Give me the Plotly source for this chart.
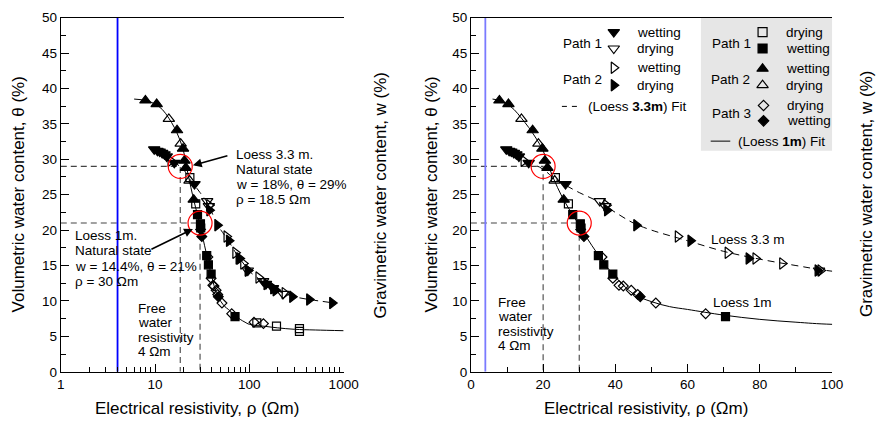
import plotly.graph_objects as go

W, H = 896, 429
FONT = "Liberation Sans, Arial, Helvetica, sans-serif"

# ---------------- measured data: resistivity (Ωm) and volumetric water content (%) ----------------
# Loess 3.3 m
l33_p1_wet_rho = [9.8, 10.6, 11.2, 11.9, 12.6, 13.3, 16.0, 26.2, 150, 178]
l33_p1_wet_th = [31.4, 31.2, 31.1, 30.9, 30.7, 30.4, 29.5, 26.5, 12.4, 11.8]
l33_p1_dry_rho = [35.7, 37.2, 96.4, 140, 228]
l33_p1_dry_th = [24.1, 23.4, 14.3, 12.8, 11.0]
l33_p2_wet_rho = [14.6, 37.5, 57.3, 71.1, 78.8, 86.2, 96.8, 125, 237]
l33_p2_wet_th = [29.8, 23.5, 19.1, 16.8, 16.0, 15.3, 14.3, 13.3, 11.1]
l33_p2_dry_rho = [37.7, 45.8, 60.8, 76.9, 96.0, 152, 179, 190, 285, 431, 756]
l33_p2_dry_th = [22.8, 20.7, 18.5, 16.0, 14.3, 12.4, 11.8, 11.5, 10.6, 10.2, 9.7]

# Loess 1 m
l1_p1_dry_rho = [23.4, 27.0, 120, 194, 340, 340]
l1_p1_dry_th = [27.4, 23.7, 6.9, 6.45, 6.1, 5.7]
l1_p1_wet_rho = [28.2, 30.3, 30.5, 35.3, 36.8, 39.3, 70.5]
l1_p1_wet_th = [22.2, 20.9, 20.3, 16.4, 15.1, 13.8, 7.8]
l1_p2_wet_rho = [7.9, 10.4, 17.1, 19.8, 20.5, 21.2, 25.7]
l1_p2_wet_th = [38.3, 37.8, 34.1, 31.5, 29.8, 28.8, 24.3]
l1_p2_dry_rho = [14.0, 18.7, 23.2]
l1_p2_dry_th = [35.7, 32.2, 27.0]
l1_p3_dry_rho = [36.3, 39.3, 41.0, 42.2, 44.4, 46.2, 51.2, 65.0, 112, 141]
l1_p3_dry_th = [16.2, 13.2, 12.2, 12.1, 11.5, 10.9, 9.7, 8.2, 7.0, 6.8]
l1_p3_wet_rho = [30.4, 31.3, 46.9]
l1_p3_wet_th = [20.1, 19.1, 10.6]

# Fitted curves
fit33_rho = [9.5, 11, 13, 15, 17, 19, 21, 23, 26, 30, 35, 40, 45, 50, 60, 70, 80, 90, 100,
             130, 170, 220, 300, 430, 550, 800]
fit33_th = [31.4, 31.1, 30.6, 29.9, 29.3, 28.9, 28.2, 27.3, 26.4, 25.3, 24.1, 22.5, 21.0, 20.0,
            18.5, 17.0, 15.9, 15.0, 14.2, 13.0, 11.9, 11.2, 10.6, 10.2, 10.0, 9.7]
fit1_rho = [6, 8, 10, 12, 14, 16, 18, 20, 22, 24, 26, 28, 30, 32, 35, 38, 40, 45, 50, 55, 60,
            70, 80, 90, 100, 150, 200, 300, 500, 1000]
fit1_th = [38.5, 38.3, 37.8, 37.0, 35.8, 34.5, 33.0, 31.2, 28.4, 26.0, 24.0, 22.3, 20.7, 19.0,
           16.7, 14.6, 13.4, 11.0, 9.9, 9.2, 8.8, 8.0, 7.4, 7.0, 6.7, 6.4, 6.2, 6.0, 5.9, 5.8]

# Natural states and free water
free_water_rho = 4
nat33_w, nat33_th, nat33_rho = 18, 29, 18.5
nat1_w, nat1_th, nat1_rho = 14.4, 21, 30
nat33_rho_lin = 20  # marked position on the linear panel

# ---------------- geometry helpers (pixel -> paper) ----------------
def px(x):
    return x / W


def py(y):
    return 1 - y / H


LX = [px(58), px(347)]
RX = [px(477), px(846)]
YD = [py(378), py(11)]

fig = go.Figure()

panels = [("x", "y"), ("x2", "y3")]

SERIES = [
    (l33_p1_wet_rho, l33_p1_wet_th, "triangle-down", 10),
    (l33_p1_dry_rho, l33_p1_dry_th, "triangle-down-open", 10),
    (l33_p2_wet_rho, l33_p2_wet_th, "triangle-right-open", 10),
    (l33_p2_dry_rho, l33_p2_dry_th, "triangle-right", 10),
    (l1_p1_dry_rho, l1_p1_dry_th, "square-open", 8),
    (l1_p1_wet_rho, l1_p1_wet_th, "square", 8),
    (l1_p2_wet_rho, l1_p2_wet_th, "triangle-up", 10),
    (l1_p2_dry_rho, l1_p2_dry_th, "triangle-up-open", 10),
    (l1_p3_dry_rho, l1_p3_dry_th, "diamond-open", 7.5),
    (l1_p3_wet_rho, l1_p3_wet_th, "diamond", 7.5),
]

REF_DASH = "6px,4px"
FIT_DASH = "7px,5px"

for i, (xa, ya) in enumerate(panels):
    xmin = 1 if xa == "x" else 0
    r33 = nat33_rho if xa == "x" else nat33_rho_lin
    # natural-state guide lines
    for r, t in [(r33, nat33_th), (nat1_rho, nat1_th)]:
        fig.add_trace(go.Scatter(x=[xmin, r, r], y=[t, t, 0], mode="lines", xaxis=xa, yaxis=ya,
                                 line=dict(color="#444444", width=1.1, dash=REF_DASH),
                                 hoverinfo="skip", showlegend=False))
    # free water resistivity
    fig.add_trace(go.Scatter(x=[free_water_rho, free_water_rho], y=[0, 50], mode="lines",
                             xaxis=xa, yaxis=ya,
                             line=dict(color="#0000ff" if xa == "x" else "#7a7aff", width=1.8),
                             hoverinfo="skip", showlegend=False))
    # fits
    fig.add_trace(go.Scatter(x=fit33_rho, y=fit33_th, mode="lines", xaxis=xa, yaxis=ya,
                             line=dict(color="black", width=1, dash=FIT_DASH, shape="spline"),
                             hoverinfo="skip", showlegend=False))
    fig.add_trace(go.Scatter(x=fit1_rho, y=fit1_th, mode="lines", xaxis=xa, yaxis=ya,
                             line=dict(color="black", width=1, shape="spline"),
                             hoverinfo="skip", showlegend=False))
    # measurements
    for rho, th, sym, size in SERIES:
        fig.add_trace(go.Scatter(x=rho, y=th, mode="markers", xaxis=xa, yaxis=ya,
                                 marker=dict(symbol=sym, size=size, color="black",
                                             line=dict(color="black", width=1.2)),
                                 showlegend=False))
    # natural-state circles
    fig.add_trace(go.Scatter(x=[r33, nat1_rho], y=[nat33_th, nat1_th], mode="markers",
                             xaxis=xa, yaxis=ya,
                             marker=dict(symbol="circle-open", size=24, color="red",
                                         line=dict(color="red", width=1.2)),
                             showlegend=False))

# ---------------- legend glyphs (drawn on a pixel overlay) ----------------
LEG = [
    (623, 26, "triangle-down", 10), (623, 43, "triangle-down-open", 10),
    (623, 63, "triangle-right-open", 10), (623, 81, "triangle-right", 10),
    (775, 26, "square-open", 9), (775, 43, "square", 9),
    (775, 64, "triangle-up", 10), (775, 81, "triangle-up-open", 10),
    (776, 102, "diamond-open", 8), (776, 118, "diamond", 8),
]
for x, y, sym, size in LEG:
    fig.add_trace(go.Scatter(x=[x], y=[y], mode="markers", xaxis="x3", yaxis="y5",
                             marker=dict(symbol=sym, size=size, color="black",
                                         line=dict(color="black", width=1.2)),
                             hoverinfo="skip", showlegend=False))
fig.add_trace(go.Scatter(x=[570, 590], y=[103, 103], mode="lines", xaxis="x3", yaxis="y5",
                         line=dict(color="black", width=1, dash="5px,5px"),
                         hoverinfo="skip", showlegend=False))
fig.add_trace(go.Scatter(x=[722, 742], y=[139, 139], mode="lines", xaxis="x3", yaxis="y5",
                         line=dict(color="black", width=1), hoverinfo="skip", showlegend=False))

# ---------------- text ----------------
annotations = []


def txt(x, y, s, size=13.5, xanchor="left", angle=0):
    annotations.append(dict(x=px(x), y=py(y), xref="paper", yref="paper", text=s,
                            showarrow=False, xanchor=xanchor, yanchor="middle",
                            textangle=angle, font=dict(family=FONT, size=size, color="black")))


def lines(x, y0, step, rows):
    for k, s in enumerate(rows):
        txt(x, y0 + k * step, s)


lines(235, 153, 15.4, ["Loess 3.3 m.", "Natural state",
                       f"w = {nat33_w}%, θ = {nat33_th}%", f"ρ = {nat33_rho} Ωm"])
lines(70, 237, 15.8, ["Loess 1m.", "Natural state",
                      f"w = {nat1_w}%, θ = {nat1_th}%", f"ρ = {nat1_rho} Ωm"])
lines(135, 312, 15.0, ["Free", "water", "resistivity", f"{free_water_rho} Ωm"])
lines(503, 306, 15.0, ["Free", "water", "resistivity", f"{free_water_rho} Ωm"])
txt(720, 241, "Loess 3.3 m")
txt(722, 306, "Loess 1m")

# legend text
txt(569, 38, "Path 1")
txt(645, 26, "wetting")
txt(645, 43, "drying")
txt(569, 75, "Path 2")
txt(645, 63, "wetting")
txt(645, 81, "drying")
txt(595, 103, "(Loess <b>3.3m</b>) Fit")
txt(721, 38, "Path 1")
txt(797, 26, "drying")
txt(797, 43, "wetting")
txt(720, 75, "Path 2")
txt(797, 64, "wetting")
txt(797, 81, "drying")
txt(721, 110, "Path 3")
txt(798, 102, "drying")
txt(798, 118, "wetting")
txt(748, 139, "(Loess <b>1m</b>) Fit")

# axis titles
txt(197, 416, "Electrical resistivity, ρ (Ωm)", size=17, xanchor="center")
txt(656, 416, "Electrical resistivity, ρ (Ωm)", size=17, xanchor="center")
txt(15, 194.5, "Volumetric water content, θ (%)", size=17, xanchor="center", angle=-90)
txt(385, 194.5, "Gravimetric water content, w (%)", size=17, xanchor="center", angle=-90)
txt(437, 194.5, "Volumetric water content, θ (%)", size=17, xanchor="center", angle=-90)
txt(881, 193.5, "Gravimetric water content, w (%)", size=17, xanchor="center", angle=-90)

# arrows to the natural-state circles
for tip, tail in [((193, 164), (229, 154)), ((193, 230), (150, 251))]:
    annotations.append(dict(x=px(tip[0]), y=py(tip[1]), xref="paper", yref="paper", text="",
                            showarrow=True, ax=tail[0] - tip[0], ay=tail[1] - tip[1],
                            arrowhead=2, arrowsize=1.1, arrowwidth=1.6, arrowcolor="black",
                            standoff=0))

# ---------------- axes ----------------
tickfont = dict(family=FONT, size=13.5, color="black")
common = dict(showgrid=False, zeroline=False, showline=True, linecolor="black", linewidth=1,
              ticks="inside", ticklen=8, tickcolor="black", tickwidth=1, tickfont=tickfont,
              fixedrange=True)

log_minor = [m * d for d in (1, 10, 100) for m in range(2, 10)]

fig.update_layout(
    width=W, height=H,
    margin=dict(l=0, r=0, t=0, b=0),
    paper_bgcolor="white", plot_bgcolor="rgba(0,0,0,0)",
    showlegend=False,
    font=dict(family=FONT, color="black"),
    xaxis=dict(domain=LX, type="log", range=[0, 3], anchor="y", mirror=True,
               tickmode="array", tickvals=[1, 10, 100, 1000], ticktext=["1", "10", "100", "1000"],
               minor=dict(tickmode="array", tickvals=log_minor, ticks="inside", ticklen=5,
                          tickcolor="black"), **common),
    yaxis=dict(domain=YD, range=[0, 50], anchor="x", dtick=5, tick0=0,
               minor=dict(dtick=2.5, ticks="inside", ticklen=5, tickcolor="black"), **common),
    yaxis2=dict(domain=YD, range=[0, 35], anchor="x", overlaying="y", side="right", dtick=5,
                tick0=0, minor=dict(dtick=2.5, ticks="inside", ticklen=5, tickcolor="black"),
                **common),
    xaxis2=dict(domain=RX, range=[0, 100], anchor="y3", mirror=True, dtick=20, tick0=0,
                minor=dict(dtick=10, ticks="inside", ticklen=5, tickcolor="black"), **common),
    yaxis3=dict(domain=YD, range=[0, 50], anchor="x2", dtick=5, tick0=0,
                minor=dict(dtick=2.5, ticks="inside", ticklen=5, tickcolor="black"), **common),
    yaxis4=dict(domain=YD, range=[0, 35], anchor="x2", overlaying="y3", side="right", dtick=5,
                tick0=0, minor=dict(dtick=2.5, ticks="inside", ticklen=5, tickcolor="black"),
                **common),
    xaxis3=dict(domain=[0, 1], range=[0, W], visible=False, fixedrange=True, anchor="y5"),
    yaxis5=dict(domain=[0, 1], range=[H, 0], visible=False, fixedrange=True, anchor="x3"),
    shapes=[dict(type="rect", xref="paper", yref="paper", x0=px(712), x1=px(846),
                 y0=py(149), y1=py(11), fillcolor="#e6e6e6", line=dict(width=0), layer="below")],
    annotations=annotations,
)

fig.write_html("out.html")
